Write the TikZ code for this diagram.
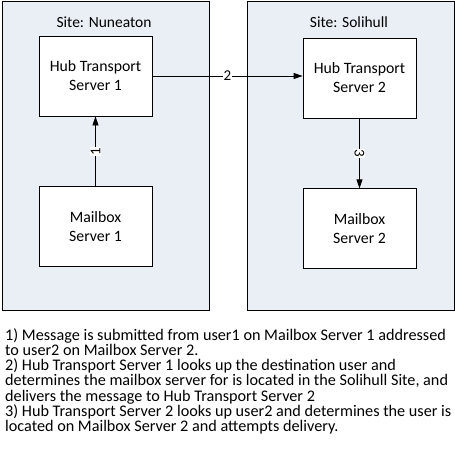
\documentclass[tikz,border=0pt]{standalone}
\usepackage{fontspec}
\setmainfont{Carlito}
\usepackage{tikz}
\usetikzlibrary{positioning,arrows.meta}
\definecolor{sitefill}{RGB}{233,239,245}
\tikzstyle{site}=[rectangle, draw=black, fill=sitefill, line width=0.8pt, minimum width=207pt, minimum height=309pt]
\tikzstyle{server}=[rectangle, draw=black, fill=white, line width=0.8pt, text centered, align=center, minimum width=113pt, minimum height=80pt, font=\fontsize{15.8}{19}\selectfont]
\tikzstyle{sitename}=[font=\fontsize{15.5}{18}\selectfont]
\tikzstyle{msg}=[midway, fill=white, inner sep=1pt, font=\fontsize{15}{16}\selectfont]
\tikzset{>={Triangle[length=9pt,width=6pt]}}

\begin{document}
\begin{tikzpicture}[x=1pt,y=-1pt]
    \useasboundingbox (0,0) rectangle (455,461);

        \node(nuneaton)[site] at (105.5,155.5) {};
        \node(solihull)[site] at (350.5,155.5) {};

        \node(nuneatonName)[sitename] at (104,22) {Site: Nuneaton};
        \node(solihullName)[sitename] at (349,22) {Site: Solihull};

        \node(hub1)[server] at (95.5,76) {Hub Transport\\Server 1};
        \node(mbx1)[server, below=70pt of hub1] {Mailbox\\Server 1};
        \node(hub2)[server] at (359.5,78) {Hub Transport\\Server 2};
        \node(mbx2)[server, below=70pt of hub2] {Mailbox\\Server 2};

        \draw [->, line width=0.8pt] (mbx1) -- node[msg, rotate=90]{1} (hub1);
        \draw [->, line width=0.8pt] (hub1.east) -- node[msg]{2} (hub2.west |- hub1.east);
        \draw [->, line width=0.8pt] (hub2) -- node[msg, rotate=-90]{3} (mbx2);

        \node(steps)[anchor=north west, align=left, inner sep=0pt, font=\fontsize{16.2}{15.3}\selectfont] at (5,328) {1) Message is submitted from user1 on Mailbox Server 1 addressed\\to user2 on Mailbox Server 2.\\2) Hub Transport Server 1 looks up the destination user and\\determines the mailbox server for is located in the Solihull Site, and\\delivers the message to Hub Transport Server 2\\3) Hub Transport Server 2 looks up user2 and determines the user is\\located on Mailbox Server 2 and attempts delivery.};

    \end{tikzpicture}
\end{document}
